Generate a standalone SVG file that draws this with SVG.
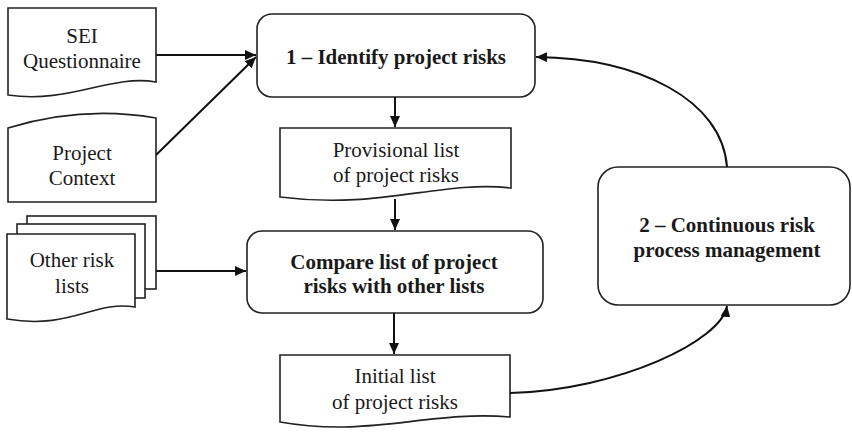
<svg xmlns="http://www.w3.org/2000/svg" width="852" height="432" viewBox="0 0 852 432">
<style>
.shape{fill:#fff;stroke:#222;stroke-width:1.6}
.conn{fill:none;stroke:#111;stroke-width:2}
.t{font-family:"Liberation Serif","Times New Roman",serif;font-size:21px;fill:#1a1a1a;text-anchor:middle}
.b{font-weight:bold}
</style>
<defs>
<marker id="arr" markerUnits="userSpaceOnUse" markerWidth="12" markerHeight="10" refX="11" refY="5" orient="auto">
<path d="M0,0 L11,5 L0,10 Z" fill="#111"/>
</marker>
</defs>
<rect width="852" height="432" fill="#fff"/>

<g id="sei">
<path class="shape" d="M8,8 H156 V82 C110,74 70,104 8,95 Z"/>
<text class="t" x="82" y="43">SEI</text>
<text class="t" x="82" y="68">Questionnaire</text>
</g>

<g id="context">
<path class="shape" d="M8,128 C60,112 110,110 156,118 V202 H8 Z"/>
<text class="t" x="82" y="160">Project</text>
<text class="t" x="82" y="185">Context</text>
</g>

<g id="otherlists">
<rect class="shape" x="27" y="216" width="129" height="73"/>
<rect class="shape" x="17" y="224" width="128" height="74"/>
<path class="shape" d="M7,234 H135 V307 C95,300 70,330 7,319 Z"/>
<text class="t" x="72" y="267">Other risk</text>
<text class="t" x="72" y="293">lists</text>
</g>

<g id="identify">
<rect class="shape" x="257" y="14" width="278" height="83" rx="15"/>
<text class="t b" x="396" y="64">1 – Identify project risks</text>
</g>

<g id="provisional">
<path class="shape" d="M280,128 H511 V188 C440,180 380,210 280,197 Z"/>
<text class="t" x="396" y="157">Provisional list</text>
<text class="t" x="396" y="182">of  project risks</text>
</g>

<g id="compare">
<rect class="shape" x="247" y="231" width="296" height="82" rx="15"/>
<text class="t b" x="394" y="269">Compare list of project</text>
<text class="t b" x="394" y="293">risks with other lists</text>
</g>

<g id="initial">
<path class="shape" d="M280,355 H510 V417 C430,410 370,438 280,422 Z"/>
<text class="t" x="395" y="383">Initial list</text>
<text class="t" x="395" y="409">of  project risks</text>
</g>

<g id="continuous">
<rect class="shape" x="598" y="167" width="252" height="138" rx="20"/>
<text class="t b" x="727" y="232">2 – Continuous risk</text>
<text class="t b" x="727" y="257">process management</text>
</g>

<g id="connectors">
<path class="conn" d="M156,55 H256" marker-end="url(#arr)"/>
<path class="conn" d="M156,155 L256,57" marker-end="url(#arr)"/>
<path class="conn" d="M395,97 V127" marker-end="url(#arr)"/>
<path class="conn" d="M395,199 V230" marker-end="url(#arr)"/>
<path class="conn" d="M156,271 H246" marker-end="url(#arr)"/>
<path class="conn" d="M394,313 V354" marker-end="url(#arr)"/>
<path class="conn" d="M510,393 C620,390 722,340 727,306" marker-end="url(#arr)"/>
<path class="conn" d="M727,167 C722,100 640,58 536,57" marker-end="url(#arr)"/>
</g>
</svg>
